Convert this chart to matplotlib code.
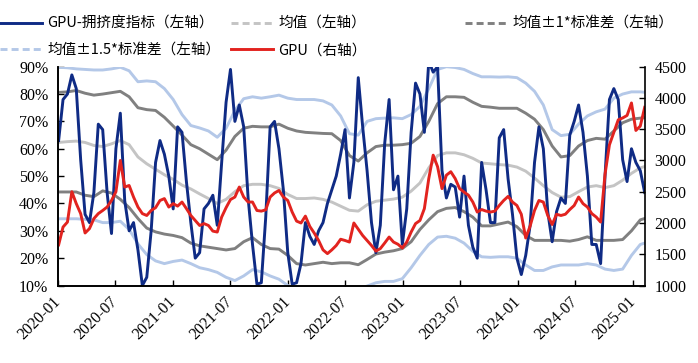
import numpy as np
import pandas as pd
import matplotlib
matplotlib.use('Agg')
import matplotlib.pyplot as plt
from matplotlib.lines import Line2D
from matplotlib.ticker import FuncFormatter

serif = ['Liberation Serif', 'Times New Roman', 'DejaVu Serif']
plt.rcParams['font.family'] = serif

# ---------------- data ----------------
dates = pd.date_range('2020-01-03', periods=134, freq='14D')
band_dates = pd.date_range('2020-01-03', periods=68, freq='28D')

crowding = [63, 78, 80, 87, 82, 56, 36, 33, 44, 69,
            67, 44, 29, 60, 73, 41, 30, 33, 23, 10,
            13, 30, 55, 63, 58, 50, 38, 68, 66, 48,
            33, 20, 22, 38, 40, 43, 32, 55, 77, 89,
            70, 76, 68, 42, 25, 10.5, 11, 35, 68, 70,
            60, 45, 22, 10.5, 11, 18, 33, 28, 25, 30,
            33, 40, 45, 50, 58, 67, 42, 55, 86, 68,
            52, 33, 22, 32, 62, 78, 45, 50, 25, 38,
            66, 84, 80, 66, 92, 88, 90, 52, 42, 47,
            46, 35, 50, 32, 24, 20, 55, 45, 33, 33,
            64, 67, 49, 36, 20, 14, 21, 32, 55, 68,
            60, 37, 26, 37, 42, 40, 65, 70, 76, 66,
            50, 25, 25, 18, 50, 78, 82, 78, 56, 48,
            60, 55, 52, 44]

gpu = [1650, 1935, 2015, 2500, 2310, 2150, 1840, 1910, 2070, 2150,
       2200, 2255, 2360, 2500, 3000, 2575, 2600, 2415, 2255, 2150,
       2120, 2200, 2245, 2360, 2390, 2255, 2310, 2270, 2335, 2230,
       2120, 2040, 1960, 1990, 1960, 1870, 1855, 2095, 2245, 2375,
       2415, 2575, 2415, 2335, 2335, 2200, 2190, 2210, 2415, 2480,
       2520, 2415, 2360, 2175, 2030, 2000, 2110, 1945, 1840, 1720,
       1570, 1510, 1570, 1640, 1740, 1720, 1695, 2000, 1900, 1800,
       1720, 1640, 1550, 1590, 1680, 1775, 1695, 1660, 1600, 1695,
       1855, 1990, 2040, 2230, 2710, 3085, 2900, 2550, 2765, 2820,
       2710, 2550, 2495, 2445, 2335, 2175, 2215, 2190, 2175, 2190,
       2280, 2360, 2425, 2335, 2280, 2140, 1760, 1950, 2200, 2360,
       2335, 2120, 1975, 2140, 2120, 2140, 2215, 2280, 2415, 2310,
       2255, 2150, 2095, 2015, 2780, 3250, 3450, 3650, 3680, 3720,
       3920, 3480, 3550, 3850]

mean = [62.3, 62.6, 62.8, 62.3, 61.2, 60.8, 61.8, 63.0, 61.5, 57.0,
        54.5, 52.5, 50.5, 48.8, 46.7, 45.3, 43.5, 41.8, 40.0, 41.5,
        44.3, 46.5, 47.0, 47.0, 46.5, 45.5, 43.3, 41.8, 41.8, 42.0,
        41.5, 40.5, 39.0, 37.5, 37.2, 39.5, 40.8, 41.2, 41.6, 42.3,
        44.5, 47.5, 53.0, 57.5, 58.5, 58.5, 57.8, 56.5, 54.8, 54.5,
        54.2, 54.0, 53.3, 51.8, 49.3, 46.5, 44.0, 42.3, 42.5, 44.3,
        46.0, 46.5, 45.8, 46.5, 48.5, 51.0, 53.0, 54.0]

upper_1sd = [80.6, 80.8, 81.3, 80.3, 79.6, 80.0, 80.5, 81.0, 79.0, 75.0,
             74.3, 74.0, 71.5, 68.3, 65.0, 61.5, 60.0, 58.0, 56.0, 59.5,
             64.5, 67.5, 68.2, 68.0, 68.0, 69.0, 67.5, 66.5, 66.0, 65.8,
             65.6, 65.5, 63.0, 57.5, 55.5, 58.5, 60.8, 61.3, 61.3, 61.5,
             62.0, 64.5, 70.0, 76.5, 79.0, 79.0, 78.8, 77.0, 75.5, 75.2,
             74.8, 74.8, 74.8, 73.0, 70.8, 67.0, 61.0, 57.0, 57.5, 61.0,
             63.0, 63.8, 63.5, 66.5, 69.5, 70.8, 71.2, 71.5]

lower_1sd = [44.2, 44.2, 44.2, 43.0, 42.5, 44.6, 43.8, 41.5, 38.5, 34.5,
             31.0, 29.6, 28.8, 28.3, 27.5, 25.5, 24.5, 24.0, 23.5, 23.0,
             23.5, 26.0, 27.5, 25.0, 23.5, 23.3, 21.0, 18.0, 17.5, 18.0,
             18.5, 18.0, 18.3, 18.3, 17.6, 19.5, 21.5, 22.2, 22.7, 23.5,
             26.0, 30.5, 34.0, 37.0, 38.2, 38.5, 37.0, 35.0, 31.8, 31.8,
             32.5, 33.2, 31.5, 28.3, 26.5, 26.5, 26.5, 26.5, 26.2, 26.8,
             27.8, 26.5, 26.5, 26.5, 26.8, 30.0, 34.0, 35.0]

upper_15sd = [89.8, 89.6, 89.2, 89.0, 88.8, 88.8, 89.2, 89.8, 88.5, 84.5,
              84.8, 84.5, 82.0, 78.0, 72.5, 68.5, 67.6, 66.5, 64.2, 67.5,
              74.0, 78.3, 79.0, 78.5, 79.0, 79.6, 78.5, 78.0, 78.0, 78.0,
              77.5, 76.0, 72.0, 65.5, 65.0, 70.0, 71.0, 71.2, 71.3, 71.0,
              72.5, 75.5, 82.0, 89.0, 90.0, 89.7, 89.0, 87.5, 86.3, 86.3,
              86.2, 86.3, 86.0, 84.0, 81.0, 76.0, 67.0, 64.8, 65.3, 69.0,
              72.0, 73.5, 74.5, 78.5, 80.0, 80.8, 80.8, 80.5]

lower_15sd = [34.4, 34.4, 34.4, 34.2, 34.0, 33.0, 33.0, 33.5, 30.5, 25.2,
              21.3, 19.0, 18.0, 18.8, 19.3, 18.0, 16.5, 15.8, 14.8, 13.0,
              11.8, 13.5, 15.8, 15.0, 13.5, 12.3, 10.0, 8.5, 7.5, 7.5,
              8.0, 8.5, 8.5, 8.0, 8.5, 9.8, 11.0, 11.5, 11.5, 12.5,
              16.5, 21.0, 25.0, 27.7, 28.0, 27.3, 25.5, 22.5, 20.5, 20.3,
              20.5, 20.5, 20.0, 17.5, 15.5, 15.5, 16.8, 17.5, 17.5, 17.5,
              18.0, 17.5, 16.0, 15.5, 16.0, 21.0, 25.0, 26.0]

tick_dates = pd.date_range('2020-01-01', '2025-01-01', freq='6MS')
tick_labels = [d.strftime('%Y-%m') for d in tick_dates]

labels = ['GPU-拥挤度指标（左轴）', '均值（左轴）', '均值±1*标准差（左轴）',
          '均值±1.5*标准差（左轴）', 'GPU（右轴）']

# ---------------- style ----------------
c_crowd = '#0f2b85'
c_mean = '#c4c4c4'
c_1sd = '#808080'
c_15sd = '#b4c8e8'
c_gpu = '#e2231f'
lw = 2.1

cjk = ['Noto Sans CJK SC', 'DejaVu Sans']

fig = plt.figure(figsize=(6.98, 3.63), dpi=100)
W, H = 698, 363
left, right, top, bottom = 58, 645, 66.7, 285.5
ax = fig.add_axes([left / W, 1 - bottom / H, (right - left) / W, (bottom - top) / H])
ax2 = ax.twinx()

ax.plot(band_dates, upper_15sd, color=c_15sd, lw=lw, solid_joinstyle='round')
ax.plot(band_dates, lower_15sd, color=c_15sd, lw=lw, solid_joinstyle='round')
ax.plot(band_dates, upper_1sd, color=c_1sd, lw=lw, solid_joinstyle='round')
ax.plot(band_dates, lower_1sd, color=c_1sd, lw=lw, solid_joinstyle='round')
ax.plot(band_dates, mean, color=c_mean, lw=lw, solid_joinstyle='round')
ax.plot(dates, crowding, color=c_crowd, lw=lw, solid_joinstyle='round')
ax2.plot(dates, gpu, color=c_gpu, lw=lw, solid_joinstyle='round')

ax.set_ylim(10, 90)
ax.set_yticks(np.arange(10, 91, 10))
ax.yaxis.set_major_formatter(FuncFormatter(lambda v, p: f'{v:.0f}%'))
ax2.set_ylim(1000, 4500)
ax2.set_yticks(np.arange(1000, 4501, 500))
ax.set_xlim(pd.Timestamp('2020-01-01'), pd.Timestamp('2025-02-08'))
ax.set_xticks(tick_dates)
ax.set_xticklabels(tick_labels, rotation=45, ha='right', va='center',
                   rotation_mode='anchor')

for a in (ax, ax2):
    a.spines['top'].set_visible(False)
    for s in a.spines.values():
        s.set_linewidth(1.2)
ax.spines['right'].set_visible(False)

ax.tick_params(axis='both', direction='in', length=4, width=1.0,
               labelsize=11.5, pad=7)
ax.tick_params(axis='x', pad=10)
ax2.tick_params(axis='y', direction='in', length=4, width=1.0,
                labelsize=11.5, pad=7)
for lab in ax.get_xticklabels() + ax.get_yticklabels() + ax2.get_yticklabels():
    lab.set_fontfamily(serif)

# ---------------- legend ----------------
dash = (0, (2.4, 1.4))
h_crowd = Line2D([], [], color=c_crowd, lw=lw)
h_mean = Line2D([], [], color=c_mean, lw=lw, linestyle=dash)
h_1sd = Line2D([], [], color=c_1sd, lw=lw, linestyle=dash)
h_15sd = Line2D([], [], color=c_15sd, lw=lw, linestyle=dash)
h_gpu = Line2D([], [], color=c_gpu, lw=lw)

common = dict(frameon=False, handlelength=2.9, handletextpad=0.35,
              borderpad=0, borderaxespad=0, labelspacing=0.85,
              prop={'family': cjk, 'size': 10.5})
anchor_y = 1 - 17 / H
leg1 = fig.legend([h_crowd, h_15sd, h_mean, h_gpu],
                  [labels[0], labels[3], labels[1], labels[4]],
                  ncol=2, loc='upper left', bbox_to_anchor=(0.0, anchor_y),
                  columnspacing=0.7, **common)
leg2 = fig.legend([h_1sd], [labels[2]], loc='upper left',
                  bbox_to_anchor=(465 / W, anchor_y), **common)

fig.savefig('out.png', dpi=100)
